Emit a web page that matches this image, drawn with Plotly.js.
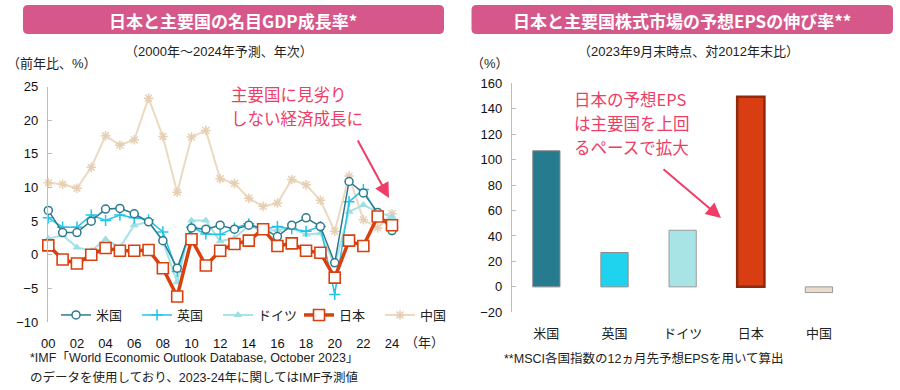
<!DOCTYPE html>
<html><head><meta charset="utf-8">
<script src="https://cdn.plot.ly/plotly-3.0.1.min.js"></script>
<style>html,body{margin:0;padding:0;background:#fff}#chart{width:900px;height:390px}</style>
</head><body><div id="chart"></div>
<script>
// ---- data ----
const years = [0,1,2,3,4,5,6,7,8,9,10,11,12,13,14,15,16,17,18,19,20,21,22,23,24];
const yearTickVals = [0,2,4,6,8,10,12,14,16,18,20,22,24];
const yearTickText = ['00','02','04','06','08','10','12','14','16','18','20','22','24'];
const us = [6.6,3.3,3.3,5.0,6.8,6.9,6.1,4.9,2.1,-2.0,4.0,3.8,4.4,3.8,4.4,3.9,2.7,4.4,5.5,4.2,-1.2,10.9,9.2,6.3,3.6];
const uk = [5.5,4.1,4.1,5.9,5.1,5.9,5.5,5.2,3.4,-2.5,4.1,3.1,3.0,4.0,4.6,3.8,4.2,3.9,3.5,4.2,-5.9,7.9,9.7,5.9,3.7];
const de = [2.4,2.9,1.1,0.6,2.3,1.1,4.4,4.9,2.0,-4.1,5.1,5.1,2.0,2.5,4.3,3.6,3.7,4.0,3.0,3.2,-1.5,6.4,7.4,6.4,5.6];
const jp = [1.4,-0.7,-1.3,0.0,1.0,0.6,0.6,0.7,-2.0,-6.2,2.3,-1.6,0.6,1.6,2.1,3.8,1.3,1.7,0.6,0.3,-3.4,2.1,1.3,5.7,4.4];
const cn = [10.7,10.5,9.9,13.0,17.7,16.3,17.1,23.3,17.6,9.3,17.5,18.5,11.3,10.6,8.4,7.2,7.7,11.2,10.4,8.1,3.5,11.7,5.2,4.0,6.1];
const seriesNames = ['米国','英国','ドイツ','日本','中国'];
const epsCats = ['米国','英国','ドイツ','日本','中国'];
const epsVals = [107, 27, 44.5, 149.5, -4.5];
const leftYRange = [-10, 25];
const rightYRange = [-20, 160];
const leftNote = ['主要国に見劣り', 'しない経済成長に'];
const rightNote = ['日本の予想EPS', 'は主要国を上回', 'るペースで拡大'];

// ---- helpers ----
const W = 900, H = 390;
const px = x => x / W, py = y => 1 - y / H;
const FONT = 'Liberation Sans, Arial, Noto Sans CJK JP, sans-serif';
const JFONT = 'Noto Sans CJK JP, Liberation Sans, sans-serif';
const AX = '#bdbdbd';

const lxDom = [px(48.3), px(392)];
const lyDom = [py(322), py(86.7)];
const rxDom = [px(512.3), px(853)];
const ryDom = [py(312.3), py(83.3)];
const zeroPos = (dom, r) => dom[0] + (0 - r[0]) / (r[1] - r[0]) * (dom[1] - dom[0]);

const common = {x: years, type: 'scatter', mode: 'lines+markers', xaxis: 'x', yaxis: 'y', cliponaxis: false};
const traces = [
  Object.assign({}, common, {y: us, name: seriesNames[0], legendrank: 1,
    line: {color: '#2f7a8c', width: 1.5},
    marker: {symbol: 'circle', size: 8, color: '#fff', line: {color: '#2f7a8c', width: 1.5}}}),
  Object.assign({}, common, {y: uk, name: seriesNames[1], legendrank: 2,
    line: {color: '#22c4ea', width: 1.5},
    marker: {symbol: 'cross-thin', size: 8, color: '#22c4ea', line: {color: '#22c4ea', width: 1.5}}}),
  Object.assign({}, common, {y: de, name: seriesNames[2], legendrank: 3,
    line: {color: '#a6e3e7', width: 2},
    marker: {symbol: 'triangle-up', size: 8, color: '#9fdfe4'}}),
  Object.assign({}, common, {y: jp, name: seriesNames[3], legendrank: 4,
    line: {color: '#d9400f', width: 3.5},
    marker: {symbol: 'square', size: 11, color: '#fff', line: {color: '#d9400f', width: 1.6}}}),
  Object.assign({}, common, {y: cn, name: seriesNames[4], legendrank: 5,
    line: {color: '#ecd9c1', width: 2},
    marker: {symbol: 'asterisk-open', size: 8, color: '#e6cfb3', line: {color: '#e6cfb3', width: 1.5}}}),
];
// plot China behind others
const ordered = [traces[4], traces[2], traces[1], traces[0], traces[3]];

ordered.push({
  type: 'bar', x: epsCats, y: epsVals, xaxis: 'x3', yaxis: 'y3', showlegend: false,
  width: 0.4,
  marker: {color: ['#267b8f', '#1fd3ef', '#a8e4e6', '#d93e12', '#e9dccd'],
           line: {color: ['#8c8c8c', '#8c8c8c', '#9a9a9a', '#8e2a0e', '#9a9a9a'], width: [1, 1, 1, 2.5, 1]}}
});

function roundRect(x0, y0, x1, y1, r) {
  const X = v => px(v), Y = v => py(v);
  return `M ${X(x0 + r)} ${Y(y0)} L ${X(x1 - r)} ${Y(y0)} Q ${X(x1)} ${Y(y0)} ${X(x1)} ${Y(y0 + r)} ` +
         `L ${X(x1)} ${Y(y1 - r)} Q ${X(x1)} ${Y(y1)} ${X(x1 - r)} ${Y(y1)} L ${X(x0 + r)} ${Y(y1)} ` +
         `Q ${X(x0)} ${Y(y1)} ${X(x0)} ${Y(y1 - r)} L ${X(x0)} ${Y(y0 + r)} Q ${X(x0)} ${Y(y0)} ${X(x0 + r)} ${Y(y0)} Z`;
}

const PINK = '#d6588a';
const RED = '#ee3d66';
const annotations = [
    {xref: 'paper', yref: 'paper', x: px(233), y: py(20), text: '<b>日本と主要国の名目GDP成長率*</b>', showarrow: false,
     font: {family: JFONT, size: 17, color: '#fff'}, xanchor: 'center', yanchor: 'middle'},
    {xref: 'paper', yref: 'paper', x: px(682), y: py(20), text: '<b>日本と主要国株式市場の予想EPSの伸び率**</b>', showarrow: false,
     font: {family: JFONT, size: 17, color: '#fff'}, xanchor: 'center', yanchor: 'middle'},
    {xref: 'paper', yref: 'paper', x: px(219), y: py(52), text: '（2000年～2024年予測、年次）', showarrow: false,
     font: {family: FONT, size: 13, color: '#222'}, xanchor: 'center', yanchor: 'middle'},
    {xref: 'paper', yref: 'paper', x: px(5), y: py(64), text: '（前年比、%）', showarrow: false,
     font: {family: FONT, size: 13, color: '#222'}, xanchor: 'left', yanchor: 'middle'},
    {xref: 'paper', yref: 'paper', x: px(688), y: py(52), text: '（2023年9月末時点、対2012年末比）', showarrow: false,
     font: {family: FONT, size: 13, color: '#222'}, xanchor: 'center', yanchor: 'middle'},
    {xref: 'paper', yref: 'paper', x: px(469), y: py(64), text: '（%）', showarrow: false,
     font: {family: FONT, size: 13, color: '#222'}, xanchor: 'left', yanchor: 'middle'},
    {xref: 'paper', yref: 'paper', x: px(403), y: py(342), text: '（年）', showarrow: false,
     font: {family: FONT, size: 13, color: '#222'}, xanchor: 'left', yanchor: 'middle'},
    {xref: 'paper', yref: 'paper', x: px(28), y: py(358), text: '*IMF「World Economic Outlook Database, October 2023」', showarrow: false,
     font: {family: FONT, size: 12.5, color: '#222'}, xanchor: 'left', yanchor: 'middle'},
    {xref: 'paper', yref: 'paper', x: px(28), y: py(377), text: 'のデータを使用しており、2023-24年に関してはIMF予測値', showarrow: false,
     font: {family: FONT, size: 12.5, color: '#222'}, xanchor: 'left', yanchor: 'middle'},
    {xref: 'paper', yref: 'paper', x: px(502), y: py(358), text: '**MSCI各国指数の12ヵ月先予想EPSを用いて算出', showarrow: false,
     font: {family: FONT, size: 12.5, color: '#222'}, xanchor: 'left', yanchor: 'middle'},
    {xref: 'paper', yref: 'paper', x: px(389), y: py(198), ax: -32, ay: -59, axref: 'pixel', ayref: 'pixel', text: '',
     showarrow: true, arrowhead: 2, arrowsize: 1.5, arrowwidth: 2, arrowcolor: RED},
    {xref: 'paper', yref: 'paper', x: px(721), y: py(218), ax: -59, ay: -50, axref: 'pixel', ayref: 'pixel', text: '',
     showarrow: true, arrowhead: 2, arrowsize: 1.5, arrowwidth: 2, arrowcolor: RED},
];
leftNote.forEach((t, i) => annotations.push({xref: 'paper', yref: 'paper', x: px(229), y: py(94 + i * 24),
  text: t, showarrow: false, font: {family: JFONT, size: 16.5, color: RED}, xanchor: 'left', yanchor: 'middle'}));
rightNote.forEach((t, i) => annotations.push({xref: 'paper', yref: 'paper', x: px(572), y: py(99 + i * 24),
  text: t, showarrow: false, font: {family: JFONT, size: 16.5, color: RED}, xanchor: 'left', yanchor: 'middle'}));

const layout = {
  width: W, height: H, margin: {l: 0, r: 0, t: 0, b: 0},
  paper_bgcolor: '#fff', plot_bgcolor: 'rgba(0,0,0,0)',
  font: {family: FONT, size: 13, color: '#111'},
  showlegend: true,
  legend: {orientation: 'h', x: px(56), y: py(315), xanchor: 'left', yanchor: 'middle',
           bgcolor: 'rgba(0,0,0,0)', font: {family: JFONT, size: 13, color: '#222'},
           entrywidth: 36, entrywidthmode: 'pixels', traceorder: 'normal', itemwidth: 30,
           tracegroupgap: 0},
  xaxis: {domain: lxDom, range: [0, 24], anchor: 'y', showline: false, zeroline: false, showgrid: false,
          tickvals: yearTickVals, ticktext: yearTickText, ticks: '', ticklabelstandoff: 12,
          tickfont: {size: 13, color: '#111'}},
  xaxis2: {overlaying: 'x', anchor: 'free', position: zeroPos(lyDom, leftYRange), range: [0, 24],
           domain: lxDom, showline: true, linecolor: AX, linewidth: 1.5, zeroline: false, showgrid: false,
           tickvals: yearTickVals, showticklabels: false, ticks: 'outside', ticklen: 4, tickcolor: AX, tickwidth: 1},
  yaxis: {domain: lyDom, range: leftYRange, anchor: 'x', dtick: 5, showline: true, linecolor: AX, linewidth: 1.5,
          zeroline: false, showgrid: false, ticks: 'inside', ticklen: 4, tickcolor: AX,
          ticklabelstandoff: 6, tickfont: {size: 13, color: '#111'}},
  xaxis3: {domain: rxDom, anchor: 'y3', type: 'category', range: [-0.5, 4.5], showline: false, zeroline: false,
           showgrid: false, ticks: '', ticklabelstandoff: 12, tickfont: {family: JFONT, size: 13, color: '#222'}},
  xaxis4: {overlaying: 'x3', anchor: 'free', position: zeroPos(ryDom, rightYRange), range: [-0.5, 4.5],
           domain: rxDom, showline: true, linecolor: AX, linewidth: 1.5, zeroline: false, showgrid: false,
           tickvals: [-0.5, 0.5, 1.5, 2.5, 3.5, 4.5], showticklabels: false, ticks: 'outside', ticklen: 4,
           tickcolor: AX, tickwidth: 1},
  yaxis3: {domain: ryDom, range: rightYRange, anchor: 'x3', dtick: 20, showline: true, linecolor: AX, linewidth: 1.5,
           zeroline: false, showgrid: false, ticks: 'inside', ticklen: 4, tickcolor: AX,
           ticklabelstandoff: 6, tickfont: {size: 13, color: '#111'}},
  shapes: [
    {type: 'path', xref: 'paper', yref: 'paper', path: roundRect(23, 5, 444, 34, 5), fillcolor: PINK, line: {width: 0}, layer: 'below'},
    {type: 'path', xref: 'paper', yref: 'paper', path: roundRect(471.5, 5, 893, 34, 5), fillcolor: PINK, line: {width: 0}, layer: 'below'},
  ],
  annotations: annotations
};
Plotly.newPlot('chart', ordered, layout, {displayModeBar: false, staticPlot: true});
</script></body></html>
